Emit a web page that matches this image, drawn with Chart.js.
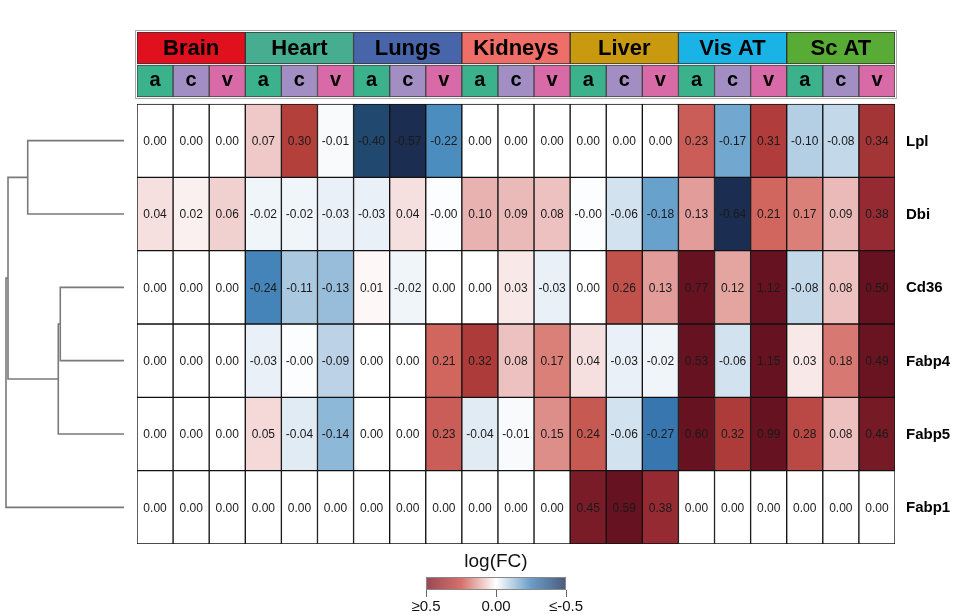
<!DOCTYPE html>
<html>
<head>
<meta charset="utf-8">
<script src="https://cdn.jsdelivr.net/npm/chart.js@4.4.1/dist/chart.umd.min.js"></script>
<style>
  body { margin: 0; background: #fff; }
  #wrap { position: relative; width: 961px; height: 616px; }
  canvas { position: absolute; left: 0; top: 0; }
</style>
</head>
<body>
<div id="wrap">
  <canvas id="arvore" width="137" height="616"></canvas>
  <canvas id="mapa" width="961" height="616"></canvas>
</div>
<script>
// dados
const genes = ["Lpl", "Dbi", "Cd36", "Fabp4", "Fabp5", "Fabp1"];
const tecidos = ["Brain", "Heart", "Lungs", "Kidneys", "Liver", "Vis AT", "Sc AT"];
const vasos = ["a", "c", "v"];
const corTecidos = ["#e0101e", "#46ad91", "#4765a8", "#ef6e68", "#c9990f", "#19b3e6", "#58ab34"];
const corVasos = ["#3bb28b", "#a38ec4", "#d96aa8"];

const valLpl   = [0.00, 0.00, 0.00, 0.07, 0.30, -0.01, -0.40, -0.57, -0.22, 0.00, 0.00, 0.00, 0.00, 0.00, 0.00, 0.23, -0.17, 0.31, -0.10, -0.08, 0.34];
const valDbi   = [0.04, 0.02, 0.06, -0.02, -0.02, -0.03, -0.03, 0.04, -0.004, 0.10, 0.09, 0.08, -0.004, -0.06, -0.18, 0.13, -0.64, 0.21, 0.17, 0.09, 0.38];
const valCd36  = [0.00, 0.00, 0.00, -0.24, -0.11, -0.13, 0.01, -0.02, 0.00, 0.00, 0.03, -0.03, 0.00, 0.26, 0.13, 0.77, 0.12, 1.12, -0.08, 0.08, 0.50];
const valFabp4 = [0.00, 0.00, 0.00, -0.03, -0.004, -0.09, 0.00, 0.00, 0.21, 0.32, 0.08, 0.17, 0.04, -0.03, -0.02, 0.53, -0.06, 1.15, 0.03, 0.18, 0.49];
const valFabp5 = [0.00, 0.00, 0.00, 0.05, -0.04, -0.14, 0.00, 0.00, 0.23, -0.04, -0.01, 0.15, 0.24, -0.06, -0.27, 0.60, 0.32, 0.99, 0.28, 0.08, 0.46];
const valFabp1 = [0.00, 0.00, 0.00, 0.00, 0.00, 0.00, 0.00, 0.00, 0.00, 0.00, 0.00, 0.00, 0.45, 0.59, 0.38, 0.00, 0.00, 0.00, 0.00, 0.00, 0.00];
const matriz = [valLpl, valDbi, valCd36, valFabp4, valFabp5, valFabp1];

// dendrograma: [esq, dir, altura]; negativo = grupo anterior (estilo hclust)
const fusoes = [[0, 1, 0.816], [2, 3, 0.54], [-2, 4, 0.557], [-1, -3, 0.983], [-4, 5, 1.0]];

const legendaRotulos = ["\u22650.5", "0.00", "\u2264-0.5"];

// escala de cores (passos de 0.1 até 0.5)
const escalaPos = ["#ffffff", "#e8b2b0", "#d46a62", "#b4403c", "#8d2530", "#661220"];
const escalaNeg = ["#ffffff", "#b4cee4", "#5596c6", "#2a68a3", "#21486f", "#1b2d50"];

const Y_MAX = 6 * 512 / 440;
const FAIXA_VASOS = [6.096, 6.532];
const FAIXA_TECIDOS = [6.546, Y_MAX];
const FONTE = "'Liberation Sans', Arial, sans-serif";

function hexRgb(h) {
    return [1, 3, 5].map(i => parseInt(h.substr(i, 2), 16));
}

function corValor(v) {
    const stops = v >= 0 ? escalaPos : escalaNeg;
    const a = Math.min(Math.abs(v), 0.5) / 0.1;
    const i = Math.min(Math.floor(a), 4);
    const t = a - i;
    const c1 = hexRgb(stops[i]), c2 = hexRgb(stops[i + 1]);
    const c = c1.map((x, k) => Math.round(x + (c2[k] - x) * t));
    return "rgb(" + c.join(",") + ")";
}

const colunas = [];
tecidos.forEach(t => vasos.forEach(v => colunas.push(t + " " + v)));

const conjuntosMapa = matriz.map((linha, r) => ({
    label: genes[r],
    data: linha.map(() => [5 - r, 6 - r]),
    backgroundColor: linha.map(corValor),
    borderColor: "#111",
    borderWidth: 1,
    borderSkipped: false,
    grouped: false,
    barPercentage: 1,
    categoryPercentage: 1,
    xAxisID: "x"
}));

conjuntosMapa.push({
    label: "vasos",
    data: colunas.map(() => FAIXA_VASOS),
    backgroundColor: colunas.map((c, i) => corVasos[i % 3]),
    borderColor: "#444",
    borderWidth: 1,
    borderSkipped: false,
    grouped: false,
    barPercentage: 1,
    categoryPercentage: 1,
    xAxisID: "x"
});

conjuntosMapa.push({
    label: "tecidos",
    data: tecidos.map(() => FAIXA_TECIDOS),
    backgroundColor: corTecidos,
    borderColor: "#333",
    borderWidth: 1,
    borderSkipped: false,
    grouped: false,
    barPercentage: 1,
    categoryPercentage: 1,
    xAxisID: "xg"
});

const textos = {
    id: "textos",
    beforeDatasetsDraw(chart) {
        const ctx = chart.ctx;
        ctx.save();
        ctx.strokeStyle = "#aaa";
        ctx.lineWidth = 1;
        ctx.strokeRect(135.5, 30.5, 761, 68);
        ctx.restore();
    },
    afterDatasetsDraw(chart) {
        const ctx = chart.ctx;
        const nLinhas = matriz.length;
        ctx.save();
        ctx.textAlign = "center";
        ctx.textBaseline = "middle";

        // valores das células
        ctx.font = "12px " + FONTE;
        ctx.fillStyle = "#1a1a1a";
        matriz.forEach((linha, r) => {
            chart.getDatasetMeta(r).data.forEach((bar, c) => {
                const p = bar.getCenterPoint();
                ctx.fillText(linha[c].toFixed(2), p.x, p.y + 1);
            });
        });

        // a / c / v
        ctx.font = "bold 20px " + FONTE;
        ctx.fillStyle = "#000";
        chart.getDatasetMeta(nLinhas).data.forEach((bar, c) => {
            const p = bar.getCenterPoint();
            ctx.fillText(vasos[c % 3], p.x, p.y);
        });

        // tecidos
        ctx.font = "bold 22px " + FONTE;
        chart.getDatasetMeta(nLinhas + 1).data.forEach((bar, c) => {
            const p = bar.getCenterPoint();
            ctx.fillText(tecidos[c], p.x, p.y + 1);
        });

        // nomes dos genes
        ctx.font = "bold 15px " + FONTE;
        ctx.textAlign = "left";
        const y = chart.scales.y;
        genes.forEach((g, r) => {
            ctx.fillText(g, chart.chartArea.right + 11, y.getPixelForValue(5.5 - r) + 1);
        });

        // legenda log(FC)
        const x0 = 426, x1 = 566, xm = (x0 + x1) / 2;
        ctx.textAlign = "center";
        ctx.font = "19px " + FONTE;
        ctx.fillStyle = "#111";
        ctx.fillText("log(FC)", xm, 562);

        const grad = ctx.createLinearGradient(x0, 0, x1, 0);
        grad.addColorStop(0, "#9a4852");
        grad.addColorStop(0.25, "#d6706c");
        grad.addColorStop(0.5, "#ffffff");
        grad.addColorStop(0.75, "#6a9dc8");
        grad.addColorStop(1, "#4a5c7c");
        ctx.fillStyle = grad;
        ctx.fillRect(x0, 577, x1 - x0, 13);
        ctx.strokeStyle = "#888";
        ctx.lineWidth = 1;
        ctx.strokeRect(x0 + 0.5, 577.5, x1 - x0 - 1, 12);

        ctx.strokeStyle = "#666";
        [x0, xm, x1].forEach(x => {
            ctx.beginPath();
            ctx.moveTo(Math.round(x) + 0.5, 590);
            ctx.lineTo(Math.round(x) + 0.5, 597);
            ctx.stroke();
        });
        ctx.font = "15px " + FONTE;
        ctx.fillStyle = "#111";
        [x0, xm, x1].forEach((x, i) => ctx.fillText(legendaRotulos[i], x, 607));
        ctx.restore();
    }
};

new Chart(document.getElementById("mapa"), {
    type: "bar",
    data: { labels: colunas, datasets: conjuntosMapa },
    options: {
        responsive: false,
        animation: false,
        layout: { padding: { left: 137, right: 66, top: 32, bottom: 72 } },
        plugins: { legend: { display: false }, tooltip: { enabled: false } },
        scales: {
            x: { type: "category", display: false, offset: true },
            xg: { type: "category", labels: tecidos, display: false, offset: true },
            y: { type: "linear", min: 0, max: Y_MAX, display: false }
        }
    },
    plugins: [textos]
});

// segmentos do dendrograma a partir das fusões
const nos = [];
const segmentos = [];
function posNo(i) {
    if (i >= 0) return { h: 0, y: 5.5 - i };
    return nos[-i - 1];
}
fusoes.forEach(([a, b, h]) => {
    const pa = posNo(a), pb = posNo(b);
    segmentos.push([{ x: pa.h, y: pa.y }, { x: h, y: pa.y }, { x: h, y: pb.y }, { x: pb.h, y: pb.y }]);
    nos.push({ h: h, y: (pa.y + pb.y) / 2 });
});

new Chart(document.getElementById("arvore"), {
    type: "scatter",
    data: {
        datasets: segmentos.map(pts => ({
            data: pts,
            showLine: true,
            borderColor: "#7a7a7a",
            borderWidth: 1.6,
            pointRadius: 0,
            fill: false,
            clip: false
        }))
    },
    options: {
        responsive: false,
        animation: false,
        layout: { padding: { left: 6, right: 13, top: 32, bottom: 72 } },
        plugins: { legend: { display: false }, tooltip: { enabled: false } },
        scales: {
            x: { type: "linear", reverse: true, min: 0, max: 1, display: false },
            y: { type: "linear", min: 0, max: Y_MAX, display: false }
        }
    }
});
</script>
</body>
</html>
